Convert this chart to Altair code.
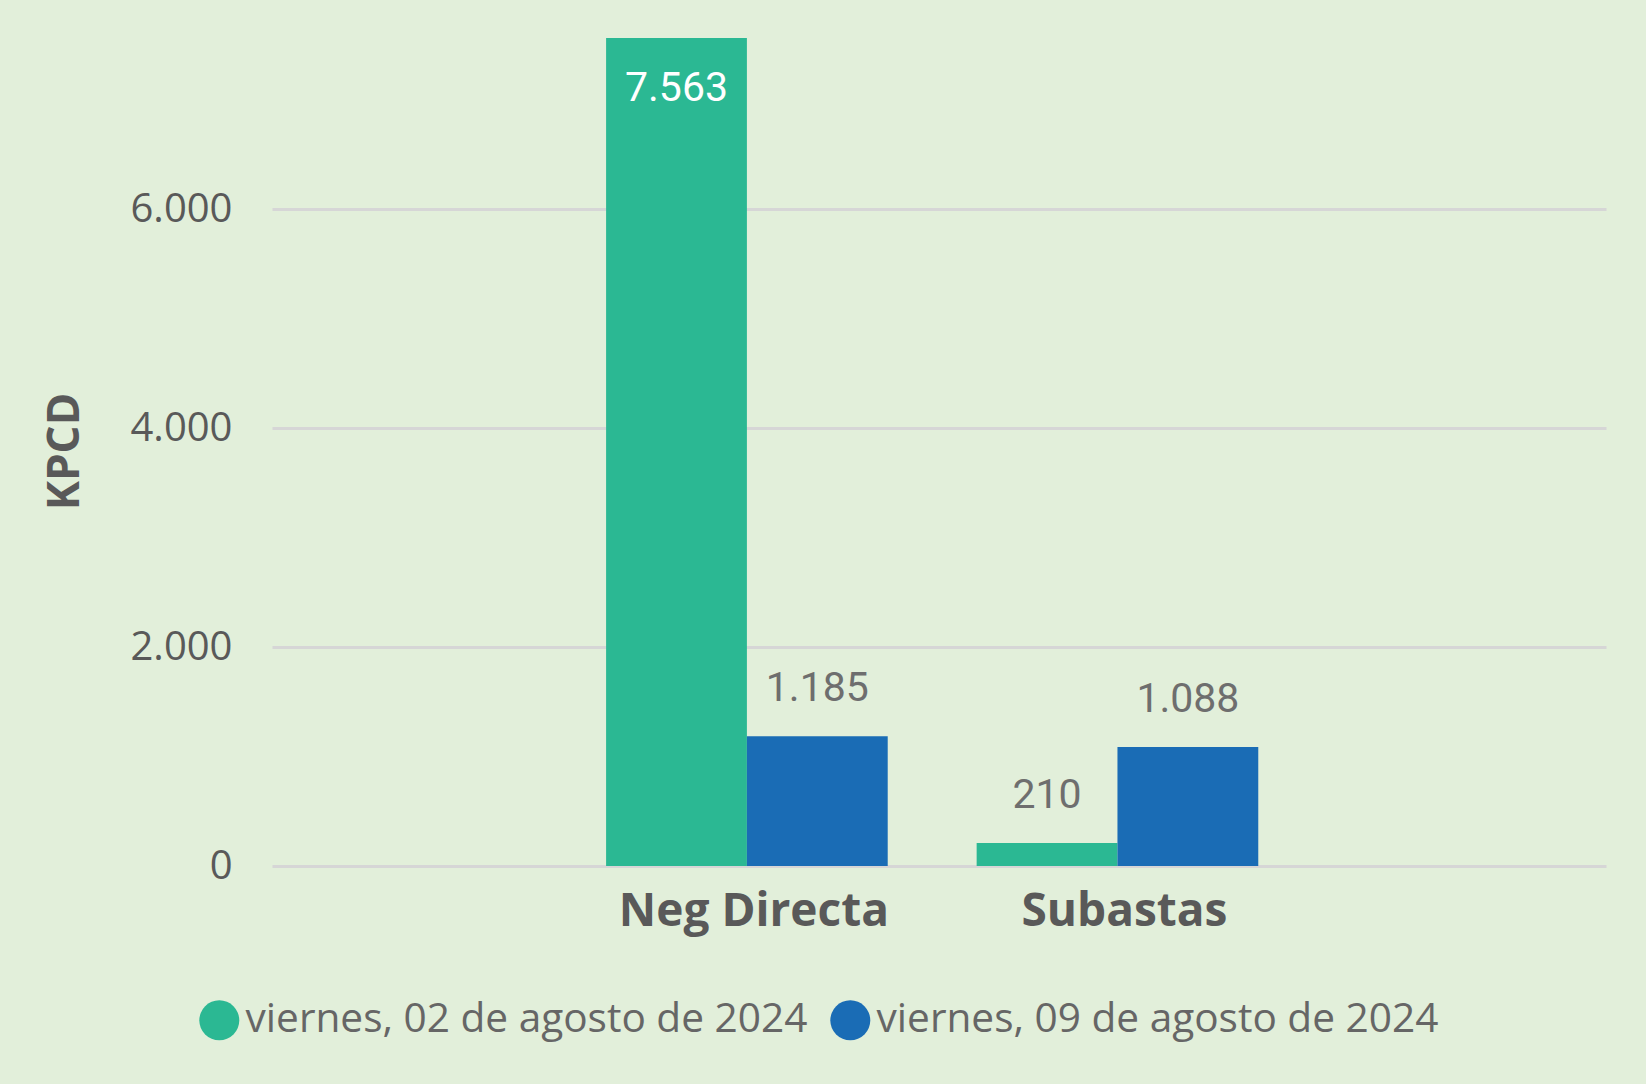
import altair as alt
import pandas as pd

categorias = ["Neg Directa", "Subastas"]
series = ["viernes, 02 de agosto de 2024", "viernes, 09 de agosto de 2024"]
valores_02 = [7563, 210]
valores_09 = [1185, 1088]
y_ticks = [0, 2000, 4000, 6000]
colores = ["#2BB893", "#1A6CB5"]

rows = []
for i, c in enumerate(categorias):
    rows.append({"categoria": c, "serie": series[0], "valor": valores_02[i]})
    rows.append({"categoria": c, "serie": series[1], "valor": valores_09[i]})
df = pd.DataFrame(rows)

GRAY = "#595959"

base = alt.Chart(df).encode(
    x=alt.X(
        "categoria:N",
        sort=categorias,
        scale=alt.Scale(paddingInner=0.24, paddingOuter=0.92, align=0.49),
        axis=alt.Axis(
            title=None, domain=False, ticks=False, tickSize=0, labelAngle=0,
            labelFont="Open Sans", labelFontSize=46, labelFontWeight="bold",
            labelColor=GRAY, labelPadding=45, labelBaseline="middle", labelLimit=1000,
            labelOffset=7,
        ),
    ),
    xOffset=alt.XOffset("serie:N", sort=series, scale=alt.Scale(paddingInner=0, paddingOuter=0)),
    y=alt.Y(
        "valor:Q",
        scale=alt.Scale(domain=[0, 7800], nice=False),
        axis=alt.Axis(
            values=y_ticks, format=",d", grid=True, gridColor="#D6D6D6", gridWidth=3,
            domain=False, ticks=False, tickSize=0,
            labelFont="Open Sans", labelFontSize=40, labelColor=GRAY, labelPadding=40,
            title="KPCD", titleFont="Open Sans", titleFontSize=44, titleFontWeight="bold",
            titleColor=GRAY, titleAngle=270, titleX=-207, titleY=439,
            titleAlign="center", titleBaseline="middle",
        ),
    ),
)

bars = base.mark_bar().encode(
    color=alt.Color(
        "serie:N",
        scale=alt.Scale(domain=series, range=colores),
        legend=alt.Legend(
            title=None, orient="none", legendX=-73, legendY=988, direction="horizontal",
            symbolType="circle", symbolSize=1600, symbolStrokeWidth=0,
            labelFont="Open Sans", labelFontSize=40.6, labelColor="#666666",
            labelOffset=6, columnPadding=22, labelLimit=1000, padding=0,
        ),
    )
)

labels_out = base.mark_text(
    dy=-47, font="Roboto", fontSize=41, color="#6E6E6E", baseline="middle"
).encode(text=alt.Text("valor:Q", format=",d")).transform_filter("datum.valor < 6000")

labels_in = base.mark_text(
    dy=51, font="Roboto", fontSize=41, color="white", baseline="middle"
).encode(text=alt.Text("valor:Q", format=",d")).transform_filter("datum.valor >= 6000")

chart = (
    alt.layer(bars, labels_out, labels_in)
    .properties(
        width=1334, height=854,
        autosize=alt.AutoSizeParams(type="none"),
        padding={"left": 272, "top": 12, "right": 40, "bottom": 218},
        background="#E2EFDA",
    )
    .configure(locale=alt.Locale(number=alt.NumberLocale(
        decimal=",", thousands=".", grouping=[3], currency=["", " €"])))
    .configure_view(stroke="transparent", strokeWidth=0)
)

chart.save("out.html", embed_options={"renderer": "svg", "actions": False})
